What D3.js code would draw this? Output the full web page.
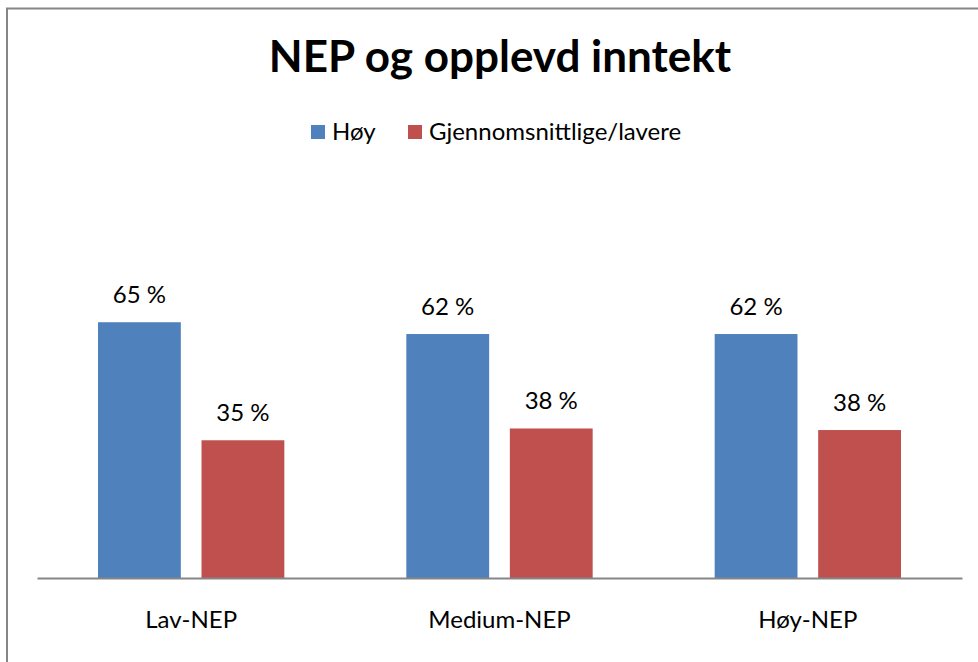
<!DOCTYPE html>
<html>
<head>
<meta charset="utf-8">
<script src="https://cdn.jsdelivr.net/npm/d3@7.9.0/dist/d3.min.js"></script>
<style>
  body { margin: 0; background: #fff; }
  svg { display: block; font-family: Lato, 'Open Sans', sans-serif; }
</style>
</head>
<body>
<svg id="chart" width="978" height="662"></svg>
<script>
const categories = ['Lav-NEP', 'Medium-NEP', 'Høy-NEP'];
const seriesNames = ['Høy', 'Gjennomsnittlige/lavere'];
const hoy = [65, 62, 62];
const lavere = [35, 38, 37.6];
const seriesColors = ['#4f81bd', '#c0504d'];

const svg = d3.select('#chart');
const width = 978;
const height = 662;

// chart frame (only left and top edges show in the crop)
svg.append('rect')
    .attr('x', 7)
    .attr('y', 8.5)
    .attr('width', width + 20)
    .attr('height', height + 20)
    .attr('fill', 'none')
    .attr('stroke', '#868686')
    .attr('stroke-width', 2);

svg.append('text')
    .attr('x', 500)
    .attr('y', 72)
    .attr('text-anchor', 'middle')
    .attr('font-size', 44)
    .attr('font-weight', 'bold')
    .text('NEP og opplevd inntekt');

const plot = { left: 37, right: 962, bottom: 578 };

const x0 = d3.scaleBand()
    .domain(categories)
    .range([plot.left, plot.right])
    .paddingInner(0)
    .paddingOuter(0);

const x1 = d3.scaleBand()
    .domain(seriesNames)
    .range([61, x0.bandwidth() - 61])
    .paddingInner(0.2);

const y = d3.scaleLinear()
    .domain([0, 70])
    .range([plot.bottom, plot.bottom - 70 * 3.935]);

const rows = categories.map((c, i) => ({
    category: c,
    values: [
        { name: seriesNames[0], value: hoy[i], color: seriesColors[0] },
        { name: seriesNames[1], value: lavere[i], color: seriesColors[1] },
    ],
}));

const groups = svg.selectAll('g.group')
    .data(rows)
    .join('g')
    .attr('class', 'group')
    .attr('transform', (d) => `translate(${x0(d.category)},0)`);

groups.selectAll('rect')
    .data((d) => d.values)
    .join('rect')
    .attr('x', (d) => x1(d.name))
    .attr('y', (d) => y(d.value))
    .attr('width', x1.bandwidth())
    .attr('height', (d) => y(0) - y(d.value))
    .attr('fill', (d) => d.color);

groups.selectAll('text.val')
    .data((d) => d.values)
    .join('text')
    .attr('class', 'val')
    .attr('x', (d) => x1(d.name) + x1.bandwidth() / 2)
    .attr('y', (d) => y(d.value) - 19)
    .attr('text-anchor', 'middle')
    .attr('font-size', 24)
    .text((d) => `${Math.round(d.value)} %`);

// category axis
const xAxis = svg.append('g')
    .attr('transform', `translate(0,${plot.bottom})`)
    .call(d3.axisBottom(x0).tickSize(0).tickPadding(33));
xAxis.select('.domain').attr('stroke', '#868686').attr('stroke-width', 2);
xAxis.selectAll('text')
    .attr('font-size', 24)
    .attr('font-family', 'Lato, sans-serif')
    .attr('fill', '#000');

// legend
const legendItems = [
    { name: seriesNames[0], color: seriesColors[0], x: 311 },
    { name: seriesNames[1], color: seriesColors[1], x: 408 },
];
const legend = svg.append('g');
legendItems.forEach((d) => {
    legend.append('rect')
        .attr('x', d.x)
        .attr('y', 125)
        .attr('width', 14)
        .attr('height', 14)
        .attr('fill', d.color);
    legend.append('text')
        .attr('x', d.x + 21)
        .attr('y', 140)
        .attr('font-size', 24)
        .text(d.name);
});
</script>
</body>
</html>
